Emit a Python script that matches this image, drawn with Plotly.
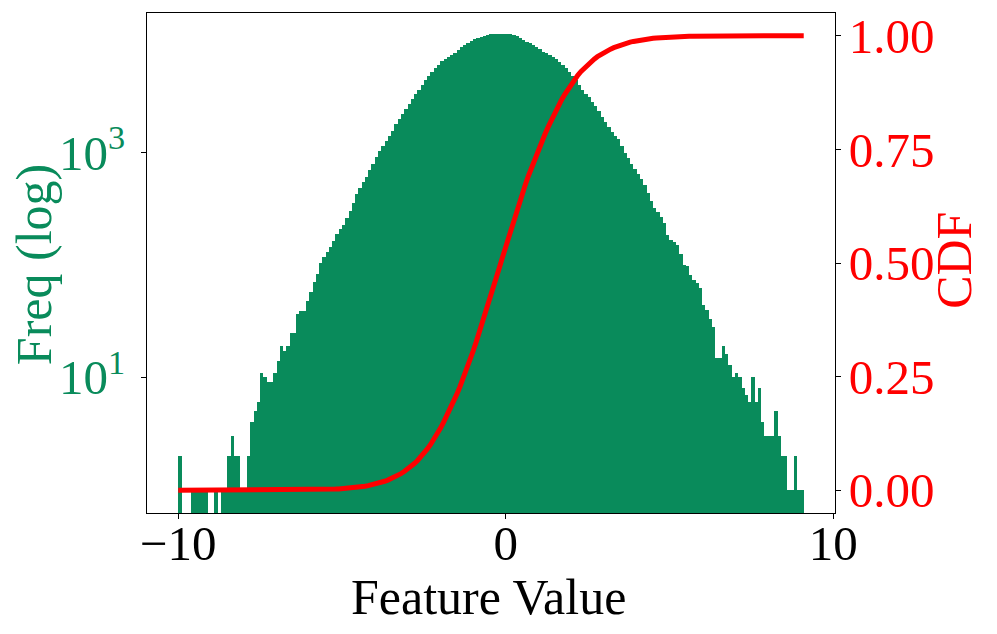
import numpy as np
import plotly.graph_objects as go

# Histogram bins: left edge of first bin and bin width (feature value units)
bin_start = -10.0
bin_width = 0.1

# Bar heights (counts, log axis)
counts = [
    2, 0, 0, 0, 1, 1, 1, 1, 1, 0,
    0, 1, 0, 1, 1, 2, 3, 2, 2, 1,
    1, 2, 4, 5, 6, 11, 10, 9, 9, 11,
    14, 19, 17, 19, 25, 25, 37, 39, 39, 48,
    58, 70, 83, 105, 118, 130, 145, 165, 190, 208,
    228, 260, 300, 360, 430, 490, 550, 610, 700, 800,
    910, 1030, 1150, 1270, 1400, 1550, 1800, 2000, 2200, 2450,
    2700, 3000, 3300, 3650, 4000, 4400, 4800, 5200, 5650, 6100,
    6500, 6800, 7100, 7450, 7800, 8200, 8700, 9100, 9500, 9900,
    10200, 10500, 10800, 11000, 11150, 11300, 11350, 11400, 11400, 11400,
    11400, 11300, 11100, 10850, 10500, 10100, 9750, 9400, 9050, 8700,
    8300, 7950, 7700, 7450, 7150, 6850, 6400, 6050, 5650, 5250,
    4850, 4450, 4000, 3600, 3350, 3150, 2850, 2600, 2330, 2100,
    1880, 1680, 1520, 1400, 1320, 1150, 1000, 900, 800, 720,
    640, 580, 520, 440, 370, 320, 295, 265, 235, 185,
    168, 160, 150, 125, 100, 98, 82, 73, 69, 62,
    44, 40, 33, 28, 15, 15, 19, 16, 13, 10,
    11, 10, 8, 7, 6, 10, 6, 8, 4, 3,
    3, 3, 5, 3, 2, 2, 1, 1, 2, 1,
    1,
]

x_ticks = [-10, 0, 10]
x_tick_labels = ["\u221210", "0", "10"]
freq_ticks = [10, 1000]
freq_tick_labels = ["10<sup>1</sup>", "10<sup>3</sup>"]
cdf_ticks = [0.0, 0.25, 0.5, 0.75, 1.0]
cdf_tick_labels = ["0.00", "0.25", "0.50", "0.75", "1.00"]

GREEN = "#098b5b"
RED = "#ff0000"
FONT = "Liberation Serif, Times New Roman, serif"
FS = 49
FT = 50

n = len(counts)
edges = bin_start + bin_width * np.arange(n + 1)
centers = edges[:-1] + bin_width / 2
cnt = np.array(counts, dtype=float)
y_bar = np.where(cnt > 0, cnt, np.nan)

cdf = np.concatenate([[0.0], np.cumsum(cnt) / cnt.sum()])

fig = go.Figure()
fig.add_trace(go.Bar(
    x=centers, y=y_bar, width=bin_width,
    marker=dict(color=GREEN, line=dict(width=0)),
    showlegend=False,
))
fig.add_trace(go.Scatter(
    x=edges, y=cdf, mode="lines", yaxis="y2",
    line=dict(color=RED, width=5),
    showlegend=False,
))

axis_common = dict(
    ticks="outside", ticklen=5, tickwidth=1, tickcolor="black",
    showline=True, linecolor="black", linewidth=1,
    showgrid=False, zeroline=False, automargin=False,
)

fig.update_layout(
    width=989, height=626,
    margin=dict(l=139, r=162, t=5, b=121, autoexpand=False),
    paper_bgcolor="white", plot_bgcolor="white",
    bargap=0,
    font=dict(family=FONT, size=FS, color="black"),
    xaxis=dict(
        range=[-10.955, 10.055],
        tickmode="array", tickvals=x_ticks, ticktext=x_tick_labels,
        mirror=True,
        tickfont=dict(size=FS, color="black"),
        ticklabelstandoff=-18,
        **axis_common,
    ),
    yaxis=dict(
        type="log",
        range=[-0.208, 4.244],
        tickmode="array", tickvals=freq_ticks, ticktext=freq_tick_labels,
        tickfont=dict(size=FS, color=GREEN),
        ticklabelstandoff=6,
        **axis_common,
    ),
    yaxis2=dict(
        overlaying="y", side="right",
        range=[-0.05, 1.05],
        tickmode="array", tickvals=cdf_ticks, ticktext=cdf_tick_labels,
        tickfont=dict(size=FS, color=RED),
        ticklabelstandoff=-2,
        **axis_common,
    ),
    annotations=[
        dict(text="Feature Value", xref="paper", yref="paper",
             x=0.496, y=-0.168, xanchor="center", yanchor="middle",
             showarrow=False, font=dict(size=FT, color="black")),
        dict(text="Freq (log)", xref="paper", yref="paper",
             x=-0.164, y=0.496, xanchor="center", yanchor="middle", textangle=-90,
             showarrow=False, font=dict(size=FT, color=GREEN)),
        dict(text="CDF", xref="paper", yref="paper",
             x=1.172, y=0.505, xanchor="center", yanchor="middle", textangle=-90,
             showarrow=False, font=dict(size=FT, color=RED)),
    ],
)

fig.write_html("out.html")
